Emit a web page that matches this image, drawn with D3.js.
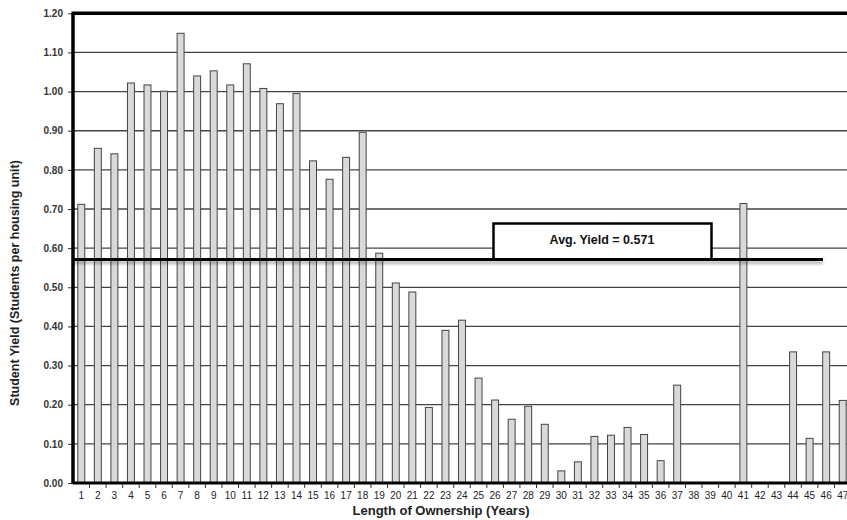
<!DOCTYPE html>
<html>
<head>
<meta charset="utf-8">
<script src="https://cdn.jsdelivr.net/npm/d3@7"></script>
<style>
  html, body { margin: 0; padding: 0; background: #fff; }
  svg { display: block; }
</style>
</head>
<body>
<svg id="chart" width="847" height="520"></svg>
<script>
const years = d3.range(1, 48).map(String);
const yieldValues = [
  0.712, 0.855, 0.841, 1.022, 1.017, 1.001, 1.149, 1.040, 1.053, 1.017,
  1.071, 1.008, 0.969, 0.995, 0.823, 0.776, 0.832, 0.896, 0.587, 0.511,
  0.488, 0.193, 0.390, 0.416, 0.268, 0.212, 0.163, 0.196, 0.150, 0.031,
  0.054, 0.119, 0.122, 0.142, 0.124, 0.057, 0.250, 0.000, 0.000, 0.000,
  0.714, 0.000, 0.000, 0.335, 0.114, 0.335, 0.211
];
const yTicks = [0, 0.1, 0.2, 0.3, 0.4, 0.5, 0.6, 0.7, 0.8, 0.9, 1.0, 1.1, 1.2];
const avgYield = 0.571;
const avgLabel = "Avg. Yield = 0.571";
const xTitle = "Length of Ownership (Years)";
const yTitle = "Student Yield (Students per housing unit)";

const svg = d3.select("#chart");
const mLeft = 73, mTop = 13.3, mBottom = 483, mRight = 851;
const font = "'Liberation Sans', Arial, sans-serif";

const x = d3.scaleBand().domain(years).range([mLeft, mRight])
  .paddingInner(0.58).paddingOuter(0.29);
const y = d3.scaleLinear().domain([0, 1.2]).range([mBottom, mTop]);

const defs = svg.append("defs");
defs.append("filter").attr("id", "blur").attr("filterUnits", "userSpaceOnUse")
  .attr("x", 0).attr("y", 0).attr("width", 847).attr("height", 520)
  .append("feGaussianBlur").attr("stdDeviation", 1.6);

// gridlines
svg.append("g").selectAll("line").data(yTicks.filter(d => d > 0 && d < 1.2)).join("line")
  .attr("x1", mLeft).attr("x2", 847)
  .attr("y1", d => y(d)).attr("y2", d => y(d))
  .attr("stroke", "#444").attr("stroke-width", 1.3);

// y axis
const yAxis = svg.append("g").attr("transform", `translate(${mLeft},0)`)
  .call(d3.axisLeft(y).tickValues(yTicks).tickFormat(d3.format(".2f")).tickSize(5).tickPadding(5));
yAxis.select(".domain").remove();
yAxis.selectAll(".tick line").attr("stroke", "#333");
yAxis.selectAll(".tick text").attr("font-family", font).attr("font-size", 10)
  .attr("font-weight", "bold").attr("fill", "#333");

// x axis
const xAxis = svg.append("g").attr("transform", `translate(0,${mBottom})`)
  .call(d3.axisBottom(x).tickSize(0).tickPadding(9));
xAxis.select(".domain").remove();
xAxis.selectAll(".tick text").attr("font-family", font).attr("font-size", 10).attr("fill", "#222");
svg.append("g").selectAll("line").data(years).join("line")
  .attr("x1", d => x(d) - x.step() * x.paddingInner() / 2 + x.step())
  .attr("x2", d => x(d) - x.step() * x.paddingInner() / 2 + x.step())
  .attr("y1", mBottom).attr("y2", mBottom + 5)
  .attr("stroke", "#333").attr("stroke-width", 1);

// bars
svg.append("g").selectAll("rect").data(yieldValues).join("rect")
  .attr("x", (d, i) => x(years[i]))
  .attr("width", x.bandwidth())
  .attr("y", d => y(d))
  .attr("height", d => mBottom - y(d))
  .attr("fill", "#d9d9d9").attr("stroke", "#444").attr("stroke-width", 1);

// axis frame lines
svg.append("line").attr("x1", mLeft - 1.5).attr("x2", 847).attr("y1", mTop).attr("y2", mTop)
  .attr("stroke", "#000").attr("stroke-width", 3.5);
svg.append("line").attr("x1", mLeft).attr("x2", mLeft).attr("y1", mTop).attr("y2", mBottom + 1)
  .attr("stroke", "#000").attr("stroke-width", 3.5);
svg.append("line").attr("x1", mLeft).attr("x2", 847).attr("y1", mBottom).attr("y2", mBottom)
  .attr("stroke", "#000").attr("stroke-width", 3);

// average line + label box
const ay = y(avgYield);
svg.append("rect").attr("x", 493.5).attr("y", 223.5).attr("width", 218).attr("height", ay - 223.5)
  .attr("fill", "#fff").attr("stroke", "#000").attr("stroke-width", 2.5);
svg.append("line").attr("x1", mLeft).attr("x2", 823).attr("y1", ay + 3).attr("y2", ay + 3)
  .attr("stroke", "#000").attr("stroke-opacity", 0.3).attr("stroke-width", 3).attr("filter", "url(#blur)");
svg.append("line").attr("x1", mLeft).attr("x2", 823).attr("y1", ay).attr("y2", ay)
  .attr("stroke", "#000").attr("stroke-width", 3);
svg.append("text").attr("x", 602).attr("y", 244).attr("text-anchor", "middle")
  .attr("font-family", font).attr("font-size", 12.5).attr("font-weight", "bold").attr("fill", "#111")
  .text(avgLabel);

// titles
svg.append("text").attr("x", 441).attr("y", 515).attr("text-anchor", "middle")
  .attr("font-family", font).attr("font-size", 13).attr("font-weight", "bold").attr("fill", "#222")
  .text(xTitle);
svg.append("text").attr("transform", "translate(19,283) rotate(-90)").attr("text-anchor", "middle")
  .attr("font-family", font).attr("font-size", 12.5).attr("font-weight", "bold").attr("fill", "#222")
  .text(yTitle);
</script>
</body>
</html>
